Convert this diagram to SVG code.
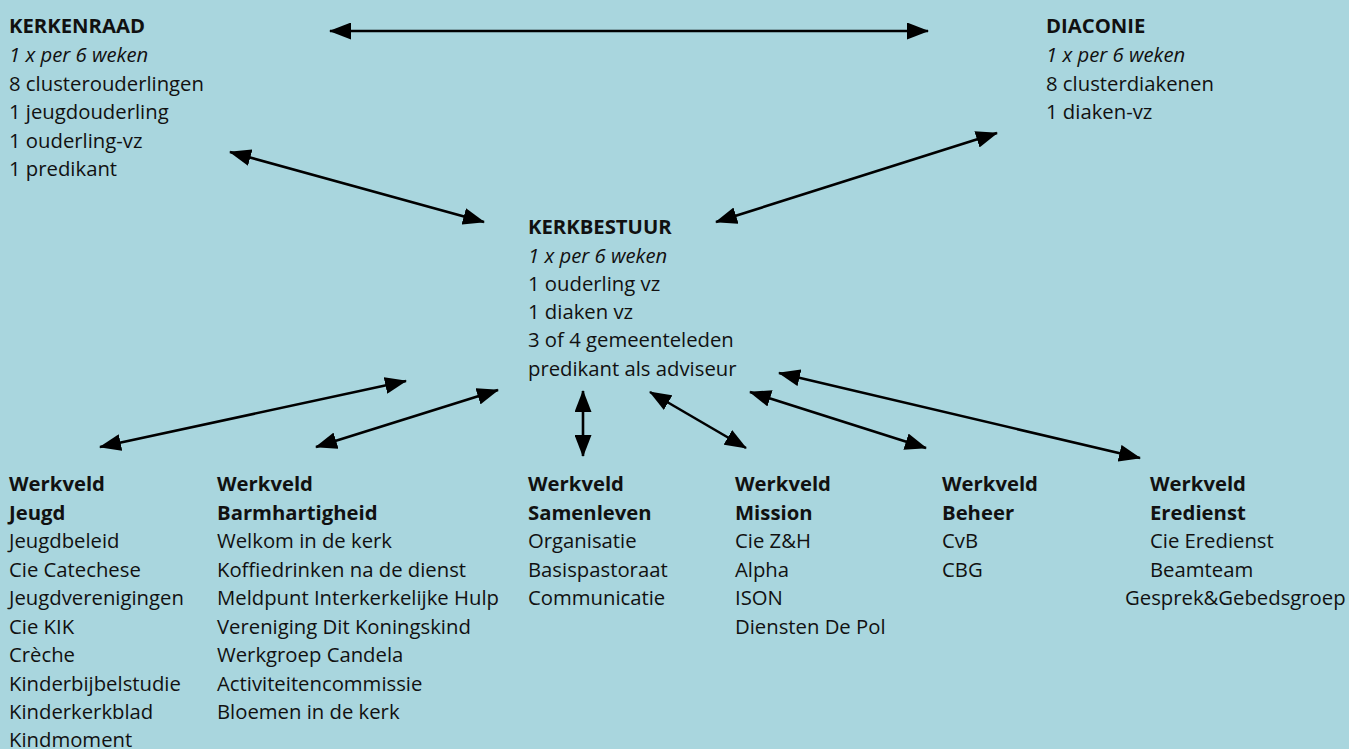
<svg xmlns="http://www.w3.org/2000/svg" width="1349" height="749" viewBox="0 0 1349 749">
<defs>
<style>
text{font-family:"Open Sans","Liberation Sans",sans-serif;font-size:20.3px;fill:#111}
.b{font-weight:bold}
.i{font-style:italic}
.c line{stroke:#000;stroke-width:2.6;marker-start:url(#ah);marker-end:url(#ah)}
</style>
<marker id="ah" viewBox="0 0 22 17" markerWidth="22" markerHeight="17" refX="21" refY="8.5" orient="auto-start-reverse" markerUnits="userSpaceOnUse">
<path d="M0,0 L22,8.5 L0,17 Z" fill="#000"/>
</marker>
</defs>
<rect width="1349" height="749" fill="#A9D6DE"/>
<g id="kerkenraad">
<text x="9" y="33" class="b">KERKENRAAD</text>
<text x="9" y="62" class="i">1 x per 6 weken</text>
<text x="9" y="91">8 clusterouderlingen</text>
<text x="9" y="119">1 jeugdouderling</text>
<text x="9" y="148">1 ouderling-vz</text>
<text x="9" y="176">1 predikant</text>
</g>
<g id="diaconie">
<text x="1046" y="33" class="b">DIACONIE</text>
<text x="1046" y="62" class="i">1 x per 6 weken</text>
<text x="1046" y="91">8 clusterdiakenen</text>
<text x="1046" y="119">1 diaken-vz</text>
</g>
<g id="kerkbestuur">
<text x="528" y="234" class="b">KERKBESTUUR</text>
<text x="528" y="263" class="i">1 x per 6 weken</text>
<text x="528" y="291">1 ouderling vz</text>
<text x="528" y="319">1 diaken vz</text>
<text x="528" y="347">3 of 4 gemeenteleden</text>
<text x="528" y="376">predikant als adviseur</text>
</g>
<g id="jeugd">
<text x="9" y="491" class="b">Werkveld</text>
<text x="9" y="520" class="b">Jeugd</text>
<text x="9" y="548">Jeugdbeleid</text>
<text x="9" y="577">Cie Catechese</text>
<text x="9" y="605">Jeugdverenigingen</text>
<text x="9" y="634">Cie KIK</text>
<text x="9" y="662">Crèche</text>
<text x="9" y="691">Kinderbijbelstudie</text>
<text x="9" y="719">Kinderkerkblad</text>
<text x="9" y="747">Kindmoment</text>
</g>
<g id="barmhartigheid">
<text x="217" y="491" class="b">Werkveld</text>
<text x="217" y="520" class="b">Barmhartigheid</text>
<text x="217" y="548">Welkom in de kerk</text>
<text x="217" y="577">Koffiedrinken na de dienst</text>
<text x="217" y="605">Meldpunt Interkerkelijke Hulp</text>
<text x="217" y="634">Vereniging Dit Koningskind</text>
<text x="217" y="662">Werkgroep Candela</text>
<text x="217" y="691">Activiteitencommissie</text>
<text x="217" y="719">Bloemen in de kerk</text>
</g>
<g id="samenleven">
<text x="528" y="491" class="b">Werkveld</text>
<text x="528" y="520" class="b">Samenleven</text>
<text x="528" y="548">Organisatie</text>
<text x="528" y="577">Basispastoraat</text>
<text x="528" y="605">Communicatie</text>
</g>
<g id="mission">
<text x="735" y="491" class="b">Werkveld</text>
<text x="735" y="520" class="b">Mission</text>
<text x="735" y="548">Cie Z&amp;H</text>
<text x="735" y="577">Alpha</text>
<text x="735" y="605">ISON</text>
<text x="735" y="634">Diensten De Pol</text>
</g>
<g id="beheer">
<text x="942" y="491" class="b">Werkveld</text>
<text x="942" y="520" class="b">Beheer</text>
<text x="942" y="548">CvB</text>
<text x="942" y="577">CBG</text>
</g>
<g id="eredienst">
<text x="1150" y="491" class="b">Werkveld</text>
<text x="1150" y="520" class="b">Eredienst</text>
<text x="1150" y="548">Cie Eredienst</text>
<text x="1150" y="577">Beamteam</text>
<text x="1125" y="605">Gesprek&amp;Gebedsgroep</text>
</g>
<g id="connectors" class="c">
<line x1="330" y1="31" x2="928" y2="31"/>
<line x1="230" y1="152" x2="484" y2="222"/>
<line x1="997" y1="133" x2="716" y2="222"/>
<line x1="100" y1="447" x2="406" y2="381"/>
<line x1="316" y1="447" x2="498" y2="390"/>
<line x1="583" y1="391" x2="583" y2="456"/>
<line x1="650" y1="392" x2="746" y2="448"/>
<line x1="750" y1="392" x2="926" y2="448"/>
<line x1="779" y1="373" x2="1140" y2="458"/>
</g>
</svg>
